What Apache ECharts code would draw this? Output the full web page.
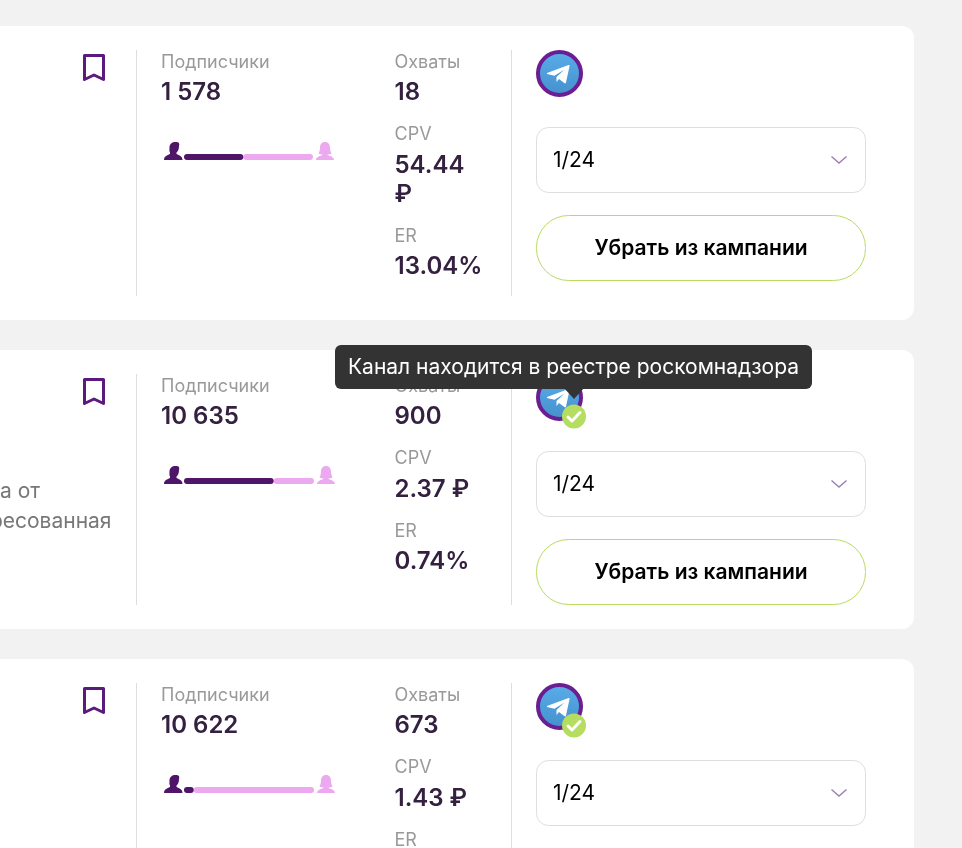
<!DOCTYPE html>
<html><head><meta charset="utf-8">
<style>html,body{margin:0;padding:0;background:#f2f2f2}#c{width:962px;height:848px}</style>
<script src="https://cdn.jsdelivr.net/npm/echarts@6/dist/echarts.min.js"></script>
</head><body><div id="c"></div>
<script>
const subscribers = ['1 578', '10 635', '10 622'];
const reach = ['18', '900', '673'];
const cpv = [['54.44', '₽'], ['2.37 ₽'], ['1.43 ₽']];
const er = ['13.04%', '0.74%', ''];
const malePct = [46, 69, 7.5];
const femalePct = [54, 31, 92.5];
const rowOffset = [0, 324, 633];
const verified = [false, true, true];
const slots = ['1/24', '1/24', '1/24'];

const FF = 'Inter, sans-serif';
const DARK = '#4f1568', PINK = '#eda9f0', INK = '#33213f', GREY = '#999999', LINE = '#dedede';
const g = [];
const txt = (x, y, text, size, weight, fill, align, z) => g.push({type:'text', z:z||5, silent:true,
  style:{x, y, text, font:`${weight} ${size}px ${FF}`, fill, textAlign:align||'left', textVerticalAlign:'middle'}});
const rrect = (x, y, w, h, r, fill, stroke, z, lw) => g.push({type:'rect', z:z||1, silent:true,
  shape:{x, y, width:w, height:h, r}, style:{fill, stroke:stroke||null, lineWidth:lw||1}});

const shapes = {
  male: 'M5.5 5.5C5.5 2 8 0 11.5 0C15 0 15.8 1.5 15 4C15 7 14 9.5 12.5 10.5L12.5 12C14 13 18.5 13.5 18.5 18L0 18C0 13.5 4.5 13 6 12L6 10.5C5 9 5.5 7.5 5.5 5.5Z',
  female: 'M9 0C12.5 0 14 2.5 14 5.5C14 8 14.8 10 15.5 11.5C14 12.2 12.5 12.5 11.5 12.5L11.5 13C13 14 18 14.5 18 18L0 18C0 14.5 5 14 6.5 13L6.5 12.5C5.5 12.5 4 12.2 2.5 11.5C3.2 10 4 8 4 5.5C4 2.5 5.5 0 9 0Z',
  book: 'M1.5 1.5L20.5 1.5L20.5 25.5L11 21L1.5 25.5Z',
  plane: 'M-12.5 -0.5L9 -8.5C9.8 -8.8 10.3 -8.2 10 -7.2L6.5 9C6.3 10 5.5 10.2 4.8 9.6L-0.5 5.5L-3 8.5L-3 3.5L5 -4L-5 2.2L-12.5 0.5Z',
  check: 'M-6 0.5L-2 4.5L6 -4',
  chevron: 'M0.5 0.5L8 7L15.5 0.5'
};
Object.keys(shapes).forEach(k => echarts.graphic.registerShape(k, echarts.graphic.extendPath(shapes[k], {})));
const path = (x, y, name, style, z) => g.push({type:name, z:z||5, silent:true, x, y, shape:{}, style});

// cards
rrect(-30, 26, 944, 294, 12, '#fff');
rrect(-30, 350, 944, 279, 12, '#fff');
rrect(-30, 659, 944, 260, 12, '#fff');

// left fragments of the second card's description
txt(0, 492, 'а от', 21, 400, '#777');
txt(111.5, 522, 'ресованная', 21, 400, '#777', 'right');

const dividerEnd = [296, 605, 848];
rowOffset.forEach((o, i) => {
  g.push({type:'line', z:1, silent:true, shape:{x1:136.5,y1:50+o,x2:136.5,y2:dividerEnd[i]}, style:{stroke:LINE,lineWidth:1}});
  g.push({type:'line', z:1, silent:true, shape:{x1:511.5,y1:50+o,x2:511.5,y2:dividerEnd[i]}, style:{stroke:LINE,lineWidth:1}});
  path(83, 54+o, 'book', {fill:null, stroke:'#5a1a7e', lineWidth:3, lineJoin:'round'});
  txt(161, 62.5+o, 'Подписчики', 18, 400, GREY);
  txt(161, 93+o, subscribers[i], 24, 600, INK);
  path(164, 142+o, 'male', {fill:DARK});
  path(i ? 317 : 316, 142+o, 'female', {fill:PINK});
  txt(394.5, 62.5+o, 'Охваты', 18, 400, GREY);
  txt(394.5, 93+o, reach[i], 24, 600, INK);
  txt(394.5, 135+o, 'CPV', 18, 400, GREY);
  cpv[i].forEach((s, k) => txt(394.5, 165.8+o+k*29, s, 24, 600, INK));
  const extra = (cpv[i].length-1)*29;
  txt(394.5, 208+o+extra, 'ER', 18, 400, GREY);
  if (er[i]) txt(394.5, 237.4+o+extra, er[i], 24, 600, INK);
  // channel icon
  g.push({type:'circle', z:3, silent:true, shape:{cx:559.5, cy:73.5+o, r:21.5},
    style:{fill:{type:'linear',x:0,y:0,x2:0,y2:1,colorStops:[{offset:0,color:'#5aaeea'},{offset:1,color:'#438fcc'}]}, stroke:'#6b1d92', lineWidth:4}});
  path(559.5, 73.5+o, 'plane', {fill:'#fff'}, 4);
  if (verified[i]) {
    g.push({type:'circle', z:6, silent:true, shape:{cx:574, cy:92.5+o, r:12}, style:{fill:'#b5dd5f'}});
    path(574, 92.5+o, 'check', {fill:null, stroke:'#fff', lineWidth:3, lineCap:'round', lineJoin:'round'}, 7);
  }
  // select
  rrect(536.5, 127.5+o, 329, 65, 12, '#fff', LINE);
  txt(553, 161+o, slots[i], 21, 400, '#000');
  path(831, 156+o, 'chevron', {fill:null, stroke:'#9b7fb0', lineWidth:1.4});
  // button (third one falls outside the picture)
  rrect(536.5, 215.5+o, 329, 65, 32, '#fff', '#b8dc62');
  txt(701, 249+o, 'Убрать из кампании', 21, 600, '#000', 'center');
});

// registry tooltip
rrect(335, 345, 477, 44, 6, '#333333', null, 20);
g.push({type:'polygon', z:20, silent:true, shape:{points:[[564,388],[584,388],[574,399]]}, style:{fill:'#333333'}});
txt(348, 368, 'Канал находится в реестре роскомнадзора', 21, 400, '#fff', 'left', 21);

const grid = [], xAxis = [], yAxis = [], series = [];
rowOffset.forEach((o, i) => {
  grid.push({left:184, top:154+o, width:i?130:129, height:6});
  xAxis.push({type:'value', gridIndex:i, min:0, max:100, show:false});
  yAxis.push({type:'category', gridIndex:i, data:['gender'], show:false});
  series.push({type:'bar', name:'male', stack:'g'+i, xAxisIndex:i, yAxisIndex:i, data:[malePct[i]], barWidth:6, silent:true, z:3,
    itemStyle:{color:DARK, borderRadius:3}});
  series.push({type:'bar', name:'female', stack:'g'+i, xAxisIndex:i, yAxisIndex:i, data:[femalePct[i]], barWidth:6, silent:true, z:2,
    itemStyle:{color:PINK, borderRadius:3}});
});

echarts.init(document.getElementById('c'), null, {renderer:'canvas'}).setOption({
  animation:false, backgroundColor:'#f2f2f2', tooltip:{show:false}, legend:{show:false},
  grid, xAxis, yAxis, series, graphic:{elements:g}
});
</script></body></html>
